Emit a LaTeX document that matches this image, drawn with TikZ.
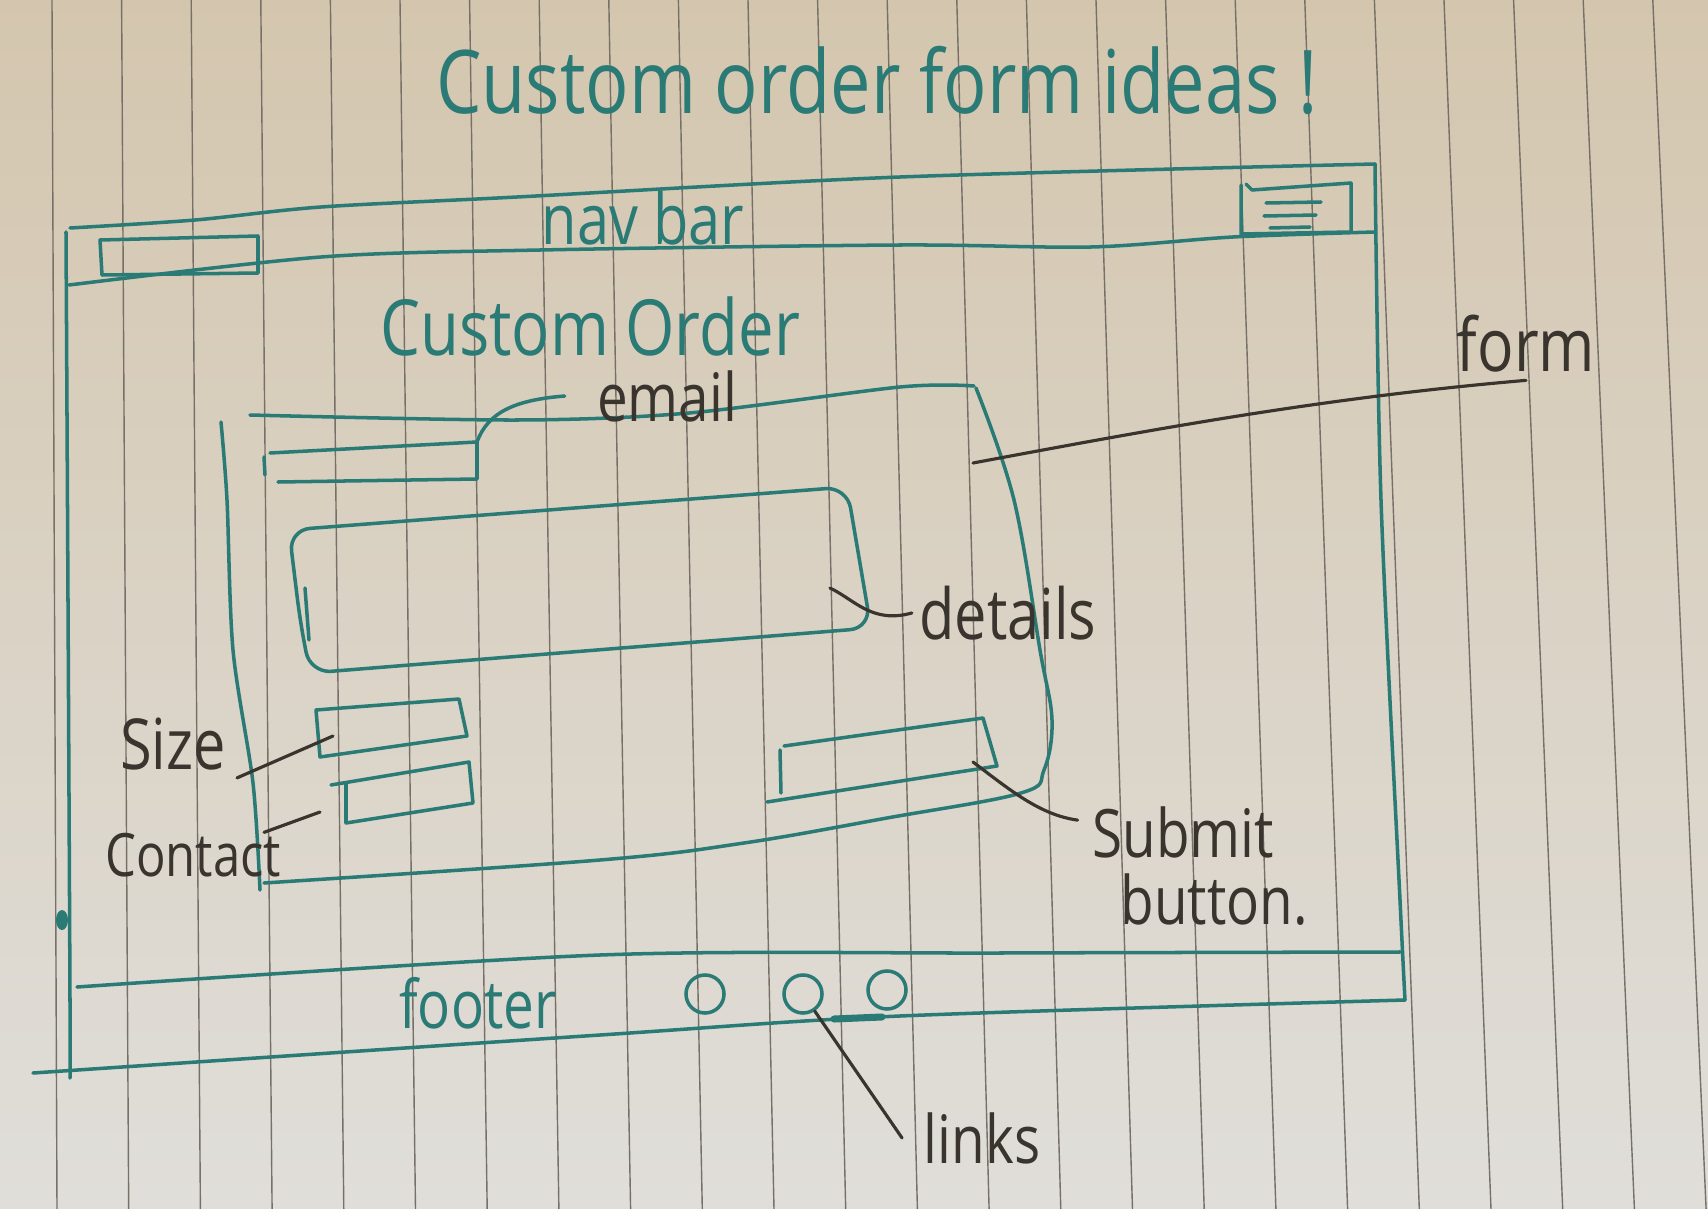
\documentclass[tikz,border=0pt]{standalone}
\usepackage{fontspec}
\usepackage{tikz}
\newfontfamily\handfont[FakeStretch=0.82]{Open Sans}
\definecolor{tealink}{RGB}{42,122,118}
\definecolor{penink}{RGB}{58,52,46}
\definecolor{ruleline}{RGB}{118,112,104}
\definecolor{papertop}{RGB}{212,198,174}
\definecolor{papermid}{RGB}{233,226,212}
\definecolor{paperbot}{RGB}{224,222,218}
\tikzset{
  every node/.style = {font = \handfont, inner sep=0pt}
}
\tikzset{
  ink/.style = {draw=tealink, line width=1pt, line cap=round, line join=round},
  pen/.style = {draw=penink, line width=0.9pt, line cap=round},
  rule/.style = {draw=ruleline, line width=0.4pt},
  tealtext/.style = {text=tealink},
  pentext/.style = {text=penink},
  linkdot/.style = {ink, circle, minimum size=0.38cm}
}
\newcommand{\handsize}[1]{\fontsize{#1}{#1}\selectfont}

\begin{document}
\begin{tikzpicture}[x=0.01cm, y=-0.01cm]
% The paper
\shade[top color=papertop, middle color=papermid, bottom color=paperbot]
  (0,0) rectangle (1708,1209);
\useasboundingbox (0,0) rectangle (1708,1209);
\foreach \k in {0,...,23}
  \draw[rule] ({52+69.6*\k},0) -- ({57+71.7*\k},1209);

% Title
\node[tealtext, font=\handfont\handsize{25}] (title) at (877,80)
  {Custom order form ideas !};

% The browser window
\draw[ink] plot[smooth] coordinates
  {(70,228) (195,220) (321,207) (517,197) (900,177) (1375,164)};
\draw[ink] plot[smooth] coordinates {(1375,164) (1381,500) (1400,900) (1405,1000)};
\draw[ink] plot[smooth] coordinates {(66,232) (68,600) (70,1000) (70,1078)};
\fill[tealink] (62,920) ellipse [x radius=0.06cm, y radius=0.1cm];

% Nav bar
\draw[ink] plot[smooth] coordinates
  {(69,285) (321,257) (540,250) (900,245) (1091,247) (1233,237) (1375,232)};
\draw[ink] (100,240) -- (258,236) -- (258,273) -- (102,275) -- cycle;
\draw[ink] (1241,185) -- (1241,234) -- (1351,232) -- (1351,183)
  -- (1252,190) -- (1246,184);
\draw[ink] (1266,203) -- (1321,202);
\draw[ink] (1264,216) -- (1316,215);
\draw[ink] (1270,228) -- (1310,227);
\node[tealtext, font=\handfont\handsize{20}] (navbar) at (643,218) {nav bar};

% Page heading
\node[tealtext, font=\handfont\handsize{22}] (heading) at (590,326) {Custom Order};

% The form
\draw[ink] plot[smooth] coordinates
  {(250,415) (517,420) (689,413) (900,387) (974,386)};
\draw[ink] plot[smooth, tension=0.6] coordinates
  {(976,388) (1014,500) (1040,650) (1052,720) (1044,770) (1021,793)
   (887,818) (744,843) (600,860) (264,883)};
\draw[ink] plot[smooth] coordinates {(221,422) (227,500) (233,650) (253,783) (260,890)};

% Fields
\draw[ink] (270,453) -- (477,442) coordinate (E) -- (477,479) -- (278,482);
\draw[ink] (264,457) -- (265,475);
\draw[ink, rounded corners=6] (289,530) -- (300,620) -- (310,673) -- (871,628)
  -- (847,487) -- cycle;
\draw[ink] (305,588) -- (309,640);
\draw[ink] (316,710) -- (459,699) -- (467,736) -- (320,757) -- cycle;
\draw[ink] (331,785) -- (469,762) -- (473,803) -- (346,823) -- (346,783);
\draw[ink] (784,746) -- (983,718) -- (997,766) -- (767,802);
\draw[ink] (780,750) -- (781,793);
\coordinate (D) at (830,588);
\coordinate (S) at (333,736);
\coordinate (C) at (320,812);
\coordinate (B) at (973,762);
\coordinate (F) at (973,463);

% Footer
\draw[ink] plot[smooth] coordinates {(77,987) (600,955) (1000,953) (1400,952)};
\draw[ink] plot[smooth] coordinates {(33,1073) (600,1035) (900,1016) (1405,1000)};
\node[tealtext, font=\handfont\handsize{19}] (footer) at (478,1003) {footer};
\foreach \x/\y/\n in {705/994/1, 803/994/2, 887/990/3}
  \node[linkdot] (L\n) at (\x,\y) {};
\draw[ink, line width=2pt] (834,1019) -- (882,1017);

% Labels
\node[pentext, font=\handfont\handsize{19}] (email) at (667,396) {email};
\node[pentext, font=\handfont\handsize{21}] (form) at (1526,344) {form};
\node[pentext, font=\handfont\handsize{20}] (details) at (1008,613) {details};
\node[pentext, font=\handfont\handsize{20}] (size) at (173,744) {Size};
\node[pentext, font=\handfont\handsize{17}] (contact) at (193,855) {Contact};
\node[pentext, font=\handfont\handsize{19}, align=left] (submit) at (1200,866)
  {Submit\\\hspace*{8pt}button.};
\node[pentext, font=\handfont\handsize{19}] (links) at (982,1138) {links};

% Leader lines
\draw[ink] (E) .. controls (488,412) and (515,400) .. ([xshift=-9pt]email.west);
\draw[pen] (F) .. controls (1150,430) and (1320,398) .. ([yshift=-2pt]form.south);
\draw[pen] (D) .. controls (855,600) and (872,624) .. ([xshift=-2pt]details.west);
\draw[pen] (S) -- ([xshift=3pt,yshift=-2pt]size.south east);
\draw[pen] (C) -- ([xshift=-5pt]contact.north east);
\draw[pen] (B) .. controls (1010,790) and (1040,815) .. ([shift={(-4pt,-4pt)}]submit.north west);
\draw[pen] (L2) -- ([xshift=-6pt]links.west);
\end{tikzpicture}
\end{document}
